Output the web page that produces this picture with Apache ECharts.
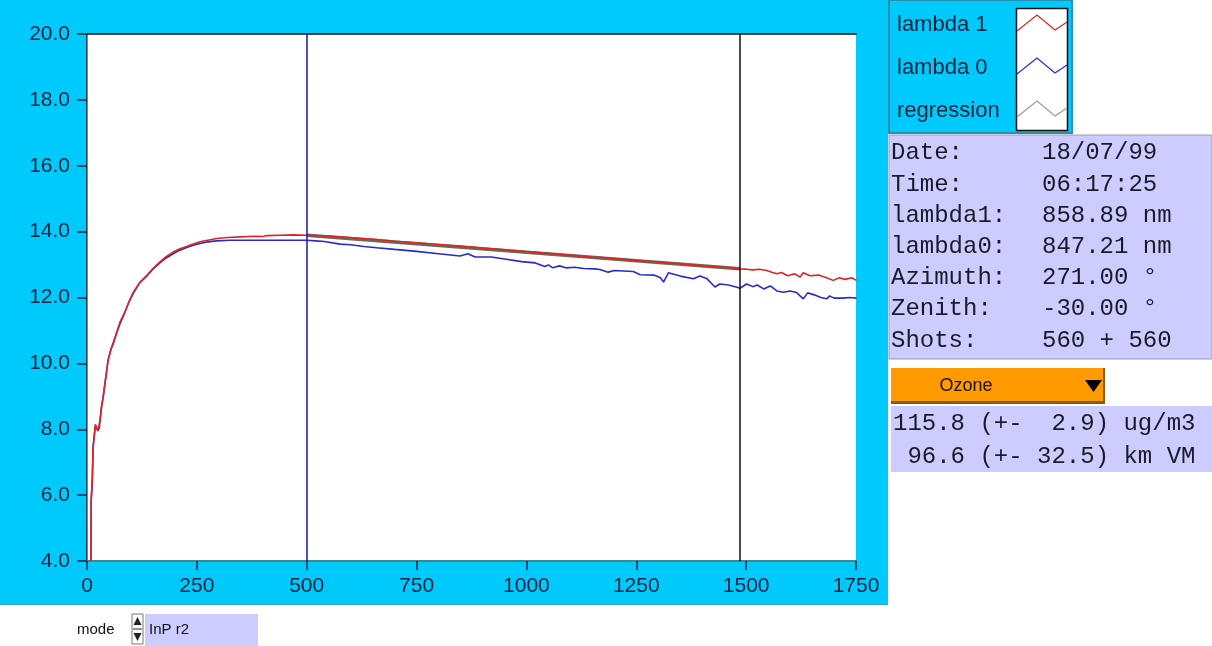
<!DOCTYPE html>
<html>
<head>
<meta charset="utf-8">
<title>lambda 1 / lambda 0</title>
<script src="https://cdn.jsdelivr.net/npm/echarts@6/dist/echarts.min.js"></script>
<style>
  html, body { margin: 0; padding: 0; background: #ffffff; }
  #wrap { position: relative; width: 1212px; height: 646px; }
  #panel { position: absolute; left: 0; top: 0; width: 888px; height: 604px; background: #00c9fb; border-bottom: 1px solid #3aa6c0; }
  #chart { position: absolute; left: 0; top: 0; width: 1212px; height: 646px; }
</style>
</head>
<body>
<div id="wrap">
  <div id="panel"></div>
  <div id="chart"></div>
</div>
<script>
// Signal curves: [shot index, value]
const lambda1 = [
  [9, 4.0], [9.5, 5.86], [11, 5.86], [12, 6.47], [14, 7.5], [18, 7.5], [19, 8.15], [23, 8.15],
  [25, 7.95], [28, 8.0], [30, 8.3], [33, 8.7], [37, 9.0], [42, 9.5], [48, 10.1], [55, 10.45],
  [60, 10.65], [68, 10.95], [75, 11.25], [86, 11.55], [95, 11.85], [105, 12.15], [120, 12.45],
  [136, 12.67], [150, 12.88], [166, 13.08], [180, 13.24], [196, 13.38], [210, 13.47], [227, 13.55],
  [240, 13.62], [257, 13.69], [275, 13.74], [295, 13.79], [320, 13.82], [350, 13.84], [380, 13.86],
  [400, 13.85], [410, 13.88], [440, 13.89], [470, 13.9], [500, 13.89], [540, 13.87], [576, 13.84],
  [620, 13.8], [660, 13.76], [700, 13.71], [750, 13.66], [800, 13.61], [849, 13.56], [900, 13.5],
  [950, 13.45], [1000, 13.39], [1050, 13.34], [1100, 13.28], [1150, 13.23], [1201, 13.18],
  [1250, 13.12], [1300, 13.07], [1350, 13.02], [1400, 12.96], [1450, 12.91], [1486, 12.87],
  [1500, 12.86], [1515, 12.84], [1530, 12.86], [1547, 12.82], [1560, 12.76], [1570, 12.72],
  [1580, 12.76], [1595, 12.66], [1610, 12.72], [1623, 12.62], [1630, 12.75], [1645, 12.66],
  [1665, 12.68], [1683, 12.6], [1698, 12.52], [1712, 12.6], [1725, 12.55], [1740, 12.6], [1751, 12.52]
];

const lambda0 = [
  [9, 4.0], [9.5, 5.8], [11, 5.8], [12, 6.4], [14, 7.45], [18, 7.45], [19, 8.1], [23, 8.1],
  [25, 7.95], [28, 8.05], [30, 8.3], [33, 8.65], [37, 9.0], [42, 9.5], [48, 10.1], [55, 10.45],
  [60, 10.6], [68, 10.95], [75, 11.2], [86, 11.55], [95, 11.85], [105, 12.12], [120, 12.45],
  [136, 12.65], [150, 12.86], [166, 13.05], [180, 13.2], [196, 13.33], [210, 13.43], [227, 13.52],
  [240, 13.58], [257, 13.64], [275, 13.69], [295, 13.72], [325, 13.74], [380, 13.74], [440, 13.74],
  [500, 13.74], [520, 13.72], [540, 13.7], [576, 13.62], [600, 13.6], [630, 13.55], [659, 13.51],
  [700, 13.46], [750, 13.4], [800, 13.33], [849, 13.26], [867, 13.33], [883, 13.23], [920, 13.23],
  [950, 13.17], [989, 13.09], [1020, 13.05], [1042, 12.94], [1050, 12.99], [1060, 12.9],
  [1075, 12.96], [1090, 12.9], [1110, 12.92], [1130, 12.88], [1156, 12.87], [1167, 12.85],
  [1186, 12.77], [1200, 12.82], [1243, 12.79], [1259, 12.69], [1290, 12.68], [1305, 12.6],
  [1312, 12.47], [1323, 12.75], [1350, 12.65], [1380, 12.57], [1395, 12.65], [1410, 12.58],
  [1429, 12.32], [1440, 12.41], [1460, 12.38], [1479, 12.31], [1486, 12.28], [1501, 12.41],
  [1515, 12.33], [1525, 12.38], [1540, 12.26], [1555, 12.35], [1570, 12.2], [1585, 12.16],
  [1600, 12.2], [1615, 12.15], [1630, 11.96], [1640, 12.14], [1655, 12.08], [1670, 12.0],
  [1683, 11.96], [1690, 12.05], [1700, 11.98], [1720, 11.98], [1735, 12.0], [1751, 11.98]
];

// Fit between the two cursors
const regression = [[500, 13.89], [1486, 12.87]];

// Cursor positions on the shot axis
const cursorA = 500;
const cursorB = 1486;

// Legend entries
const legendNames = ['lambda 1', 'lambda 0', 'regression'];
const legendColors = ['#e02424', '#2a2ac8', '#9a9a9a'];

// Measurement info rows
const infoLabels = ['Date:', 'Time:', 'lambda1:', 'lambda0:', 'Azimuth:', 'Zenith:', 'Shots:'];
const infoValues = ['18/07/99', '06:17:25', '858.89 nm', '847.21 nm', '271.00 \u00b0', '-30.00 \u00b0', '560 + 560'];

// Retrieval result
const species = 'Ozone';
const resultRows = ['115.8 (+-  2.9) ug/m3', ' 96.6 (+- 32.5) km VM'];
const modeValue = 'InP r2';

const ink = '#0c2440';
const sans = '"Liberation Sans", Arial, sans-serif';
const mono = '"Liberation Mono", "Courier New", monospace';

const graphic = [];

// legend panel
graphic.push({ type: 'rect', shape: { x: 889, y: 0, width: 183, height: 133 },
  style: { fill: '#00c9fb', stroke: '#2a8fae', lineWidth: 2 } });
graphic.push({ type: 'rect', shape: { x: 1016.5, y: 8.5, width: 51, height: 122 },
  style: { fill: '#ffffff', stroke: '#111111', lineWidth: 1.5 } });
legendNames.forEach((name, i) => {
  const cy = 25 + i * 43;
  graphic.push({ type: 'text', x: 897, y: cy,
    style: { text: name, font: '22px ' + sans, fill: ink, textVerticalAlign: 'middle' } });
  graphic.push({ type: 'polyline',
    shape: { points: [[1017, cy + 6], [1037, cy - 10], [1055, cy + 5], [1067, cy - 3]] },
    style: { stroke: legendColors[i], lineWidth: 1.2, fill: null } });
});

// info panel
graphic.push({ type: 'rect', shape: { x: 889, y: 135, width: 323, height: 224 },
  style: { fill: '#ccccff', stroke: '#9a9ab8', lineWidth: 1 } });
infoLabels.forEach((lab, i) => {
  const cy = 153 + i * 31.2;
  graphic.push({ type: 'text', x: 891, y: cy,
    style: { text: lab, font: '24px ' + mono, fill: '#1a1a2a', textVerticalAlign: 'middle' } });
  graphic.push({ type: 'text', x: 1042, y: cy,
    style: { text: infoValues[i], font: '24px ' + mono, fill: '#1a1a2a', textVerticalAlign: 'middle' } });
});

// species selector
graphic.push({ type: 'rect', shape: { x: 891, y: 368, width: 214, height: 36 },
  style: { fill: '#8a5a10' } });
graphic.push({ type: 'rect', shape: { x: 891, y: 368, width: 212, height: 33 },
  style: { fill: '#ff9a00' } });
graphic.push({ type: 'text', x: 966, y: 386,
  style: { text: species, font: '18px ' + sans, fill: '#1a1208', textAlign: 'center', textVerticalAlign: 'middle' } });
graphic.push({ type: 'polygon', shape: { points: [[1085, 380], [1102, 380], [1093.5, 392]] },
  style: { fill: '#000000' } });

// result panel
graphic.push({ type: 'rect', shape: { x: 891, y: 406, width: 321, height: 66 },
  style: { fill: '#ccccff' } });
resultRows.forEach((row, i) => {
  graphic.push({ type: 'text', x: 893, y: 424 + i * 33,
    style: { text: row, font: '24px ' + mono, fill: '#1a1a2a', textVerticalAlign: 'middle' } });
});

// mode control
graphic.push({ type: 'text', x: 77, y: 630,
  style: { text: 'mode', font: '15px ' + sans, fill: '#111111', textVerticalAlign: 'middle' } });
graphic.push({ type: 'rect', shape: { x: 132, y: 614, width: 11, height: 30 },
  style: { fill: '#ffffff', stroke: '#777777', lineWidth: 1 } });
graphic.push({ type: 'polygon', shape: { points: [[133.5, 625], [141.5, 625], [137.5, 617]] },
  style: { fill: '#222222' } });
graphic.push({ type: 'polygon', shape: { points: [[133.5, 633], [141.5, 633], [137.5, 641]] },
  style: { fill: '#222222' } });
graphic.push({ type: 'line', shape: { x1: 133, y1: 629, x2: 142, y2: 629 },
  style: { stroke: '#222222', lineWidth: 1 } });
graphic.push({ type: 'rect', shape: { x: 145, y: 614, width: 113, height: 32 },
  style: { fill: '#ccccff' } });
graphic.push({ type: 'text', x: 149, y: 630,
  style: { text: modeValue, font: '15px ' + sans, fill: '#111111', textVerticalAlign: 'middle' } });

const chart = echarts.init(document.getElementById('chart'), null, { renderer: 'canvas' });

chart.setOption({
  animation: false,
  backgroundColor: 'transparent',
  grid: {
    left: 87, top: 34, width: 769, height: 527,
    show: true, backgroundColor: '#ffffff', borderWidth: 0
  },
  xAxis: [{
    type: 'value', min: 0, max: 1750, interval: 250,
    axisLine: { show: true, onZero: false, lineStyle: { color: '#3a8a8c', width: 2 } },
    axisTick: { show: true, length: 9, lineStyle: { color: ink, width: 1.5 } },
    axisLabel: { color: ink, fontSize: 21, fontFamily: sans, margin: 15,
      formatter: v => String(v) },
    splitLine: { show: false }
  }, {
    type: 'value', position: 'top', min: 0, max: 1750,
    axisLine: { show: true, lineStyle: { color: '#111111', width: 1.5 } },
    axisTick: { show: false }, axisLabel: { show: false }, splitLine: { show: false }
  }],
  yAxis: [{
    type: 'value', min: 4, max: 20, interval: 2,
    axisLine: { show: true, onZero: false, lineStyle: { color: '#111111', width: 1.5 } },
    axisTick: { show: true, length: 10, lineStyle: { color: ink, width: 1.5 } },
    axisLabel: { color: ink, fontSize: 21, fontFamily: sans, margin: 17,
      formatter: v => v.toFixed(1) },
    splitLine: { show: false }
  }, {
    type: 'value', position: 'right', min: 4, max: 20,
    axisLine: { show: true, lineStyle: { color: '#7a8a90', width: 1 } },
    axisTick: { show: false }, axisLabel: { show: false }, splitLine: { show: false }
  }],
  series: [{
    name: 'regression', type: 'line', data: regression, showSymbol: false, z: 2,
    lineStyle: { color: '#6a6a5a', width: 3.5 }
  }, {
    name: 'lambda 0', type: 'line', data: lambda0, showSymbol: false, z: 3,
    lineStyle: { color: '#2a2ac8', width: 1.6 }
  }, {
    name: 'lambda 1', type: 'line', data: lambda1, showSymbol: false, z: 4,
    lineStyle: { color: '#e02424', width: 1.6 },
    markLine: {
      silent: true, symbol: 'none', label: { show: false },
      data: [
        { xAxis: cursorA, lineStyle: { color: '#1515b5', width: 1.5, type: 'solid' } },
        { xAxis: cursorB, lineStyle: { color: '#111111', width: 1.5, type: 'solid' } }
      ]
    }
  }],
  graphic: graphic
});
</script>
</body>
</html>
